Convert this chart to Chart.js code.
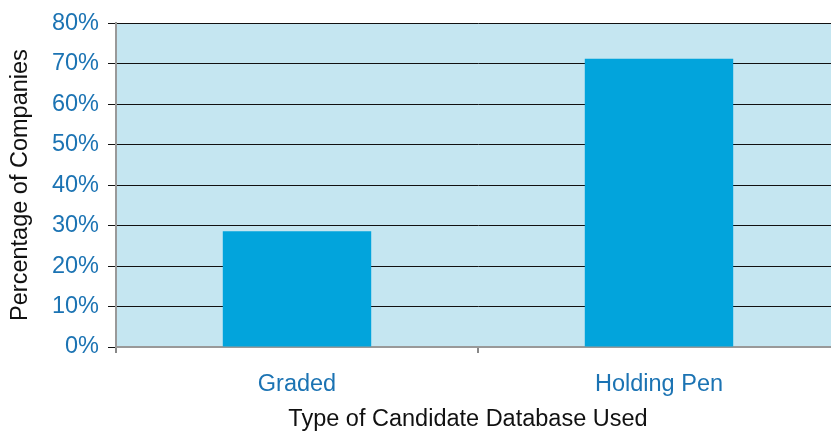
<!DOCTYPE html>
<html><head><meta charset="utf-8">
<script src="https://cdn.jsdelivr.net/npm/chart.js@4"></script>
<style>html,body{margin:0;padding:0;overflow:hidden;background:#fff}#wrap{width:840px;height:434px}</style>
</head><body><div id="wrap"><canvas id="c" width="840" height="434"></canvas></div>
<script>
const categories = ["Graded", "Holding Pen"];
const percentages = [28.6, 71.2];
const yTicks = [0, 10, 20, 30, 40, 50, 60, 70, 80];
const xTitle = "Type of Candidate Database Used";
const yTitle = "Percentage of Companies";

const FONT = "'Liberation Sans', Arial, sans-serif";
const bgPlugin = {
  id: 'bg',
  beforeDraw(chart) {
    const {ctx, chartArea: a} = chart;
    ctx.save(); ctx.fillStyle = '#c5e6f1';
    ctx.fillRect(a.left, a.top, a.right - a.left, a.bottom - a.top);
    ctx.restore();
  },
  afterDraw(chart) {
    const {ctx} = chart;
    ctx.save();
    ctx.font = "23.5px " + FONT; ctx.fillStyle = '#111';
    ctx.textAlign = 'center'; ctx.textBaseline = 'middle';
    ctx.fillText(xTitle, 468, 420);
    ctx.restore();
  }
};

new Chart(document.getElementById('c'), {
  type: 'bar',
  data: { labels: categories, datasets: [{ data: percentages, backgroundColor: '#02a4dc', borderWidth: 0, categoryPercentage: 1, barPercentage: 0.41 }] },
  options: {
    responsive: false, animation: false, devicePixelRatio: 1,
    layout: { padding: { top: 22, right: 0, left: 0, bottom: 0 } },
    plugins: { legend: { display: false }, tooltip: { enabled: false } },
    scales: {
      x: {
        afterFit(s) { s.height = 87; },
        grid: { drawOnChartArea: false, drawTicks: true, tickLength: 6, color: '#888', lineWidth: 2 },
        border: { color: '#999', width: 2 },
        ticks: { color: '#1b73b3', font: { family: FONT, size: 23.5 }, padding: 17 }
      },
      y: {
        min: 0, max: 80,
        afterFit(s) { s.width = 116; },
        afterBuildTicks(s) { s.ticks = yTicks.map(v => ({ value: v })); },
        grid: { color: '#111', lineWidth: 1, tickLength: 8 },
        border: { color: '#999', width: 2 },
        ticks: { color: '#1b73b3', font: { family: FONT, size: 23.5 }, padding: 9, callback: v => v + '%' },
        title: { display: true, text: yTitle, color: '#111', font: { family: FONT, size: 23.5 }, padding: { top: 6, bottom: 4 } }
      }
    }
  },
  plugins: [bgPlugin]
});
</script></body></html>
